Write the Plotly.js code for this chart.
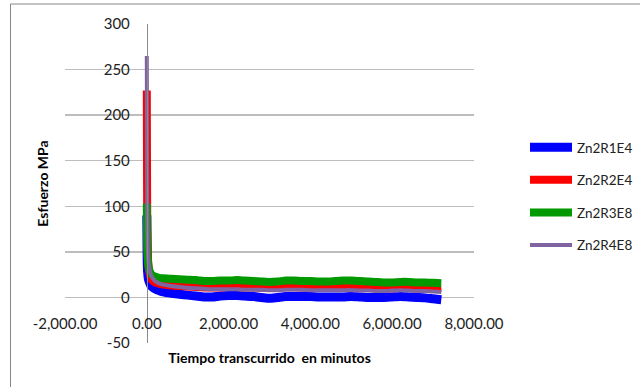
<!DOCTYPE html>
<html>
<head>
<meta charset="utf-8">
<script src="https://cdn.plot.ly/plotly-3.0.1.min.js"></script>
<style>html,body{margin:0;padding:0;background:#fff;}#chart{width:640px;height:387px;}</style>
</head>
<body>
<div id="chart"></div>
<script>
const time = [0, 5, 10, 20, 40, 70, 100, 150, 200, 300, 400, 600, 800, 1000, 1200, 1400, 1600, 1800, 2000, 2200, 2400, 2600, 2800, 3000, 3200, 3400, 3600, 3800, 4000, 4200, 4400, 4600, 4800, 5000, 5200, 5400, 5600, 5800, 6000, 6200, 6400, 6600, 6800, 7000, 7200];
const zn2r1e4 = [90, 60, 40, 28, 20, 16, 13, 11, 9.5, 7.5, 6, 4.5, 3.5, 2.5, 1.5, 0.5, 0.5, 1.5, 2, 2, 1.5, 1, 0, -1, 0, 1, 1, 1, 1, 0.5, 0.5, 0.5, 0.5, 1, 0.5, 0, 0, 0, 0.5, 1, 0.5, 0, -0.5, -1.5, -2.5];
const zn2r2e4 = [227, 150, 90, 55, 35, 26, 21, 18, 16.5, 15, 14, 13, 12.5, 12, 11.5, 11, 11, 11, 11.5, 11.5, 11, 11, 10.5, 10.5, 11, 11.5, 11.5, 11, 11, 10.5, 10.5, 11, 11.5, 11.5, 11, 10.5, 10.5, 10, 10, 10.5, 10.5, 10, 10, 10, 10.5];
const zn2r3e8 = [103, 80, 60, 45, 35, 29, 26, 24, 23, 21.5, 21, 20.5, 20, 19.5, 19, 18, 18, 18.5, 18.5, 19, 18.5, 18, 17.5, 17, 17.5, 18.5, 18.5, 18, 18, 17.5, 17.5, 18, 18.5, 18.5, 18, 17.5, 17, 16.5, 16.5, 17, 17, 16.5, 16.5, 16, 15.5];
const zn2r4e8 = [265, 170, 100, 60, 40, 30, 25, 21, 18, 15.5, 14, 12.5, 11.5, 10.5, 10, 9.5, 9, 9, 9, 9, 8.5, 8.5, 8.5, 8, 8, 8.5, 8.5, 8.5, 8, 8, 8, 8, 8, 8, 7.5, 7.5, 7, 7, 7.5, 8, 7.5, 7, 7, 6.5, 6];
const seriesNames = ["Zn2R1E4", "Zn2R2E4", "Zn2R3E8", "Zn2R4E8"];
const xTickVals = [-2000, 0, 2000, 4000, 6000, 8000];
const xTickText = ["-2,000.00", "0.00", "2,000.00", "4,000.00", "6,000.00", "8,000.00"];
const yTickVals = [-50, 0, 50, 100, 150, 200, 250, 300];
const yTickText = ["-50", "0", "50", "100", "150", "200", "250", "300"];

const colors = ["#0000FF", "#FF0000", "#009A00", "#8064A2"];
const widths = [9, 8, 8, 4];
const ys = [zn2r1e4, zn2r2e4, zn2r3e8, zn2r4e8];
const traces = ys.map((y, i) => ({
  x: time, y: y, type: "scatter", mode: "lines", name: seriesNames[i],
  legendgroup: "g" + i,
  line: {color: colors[i], width: widths[i], shape: "spline", smoothing: 0.6}
}));

const xr = [-2000, 8000], yr = [-50, 300];
const font = "Lato, 'Open Sans', sans-serif";
const L = 65, R = 474, T = 24, B = 343;
const px = v => (v - L) / (R - L);
const py = v => (B - v) / (B - T);
const frame = {color: "#888888", width: 1};

const layout = {
  width: 640, height: 387,
  margin: {l: L, r: 640 - R, t: T, b: 387 - B, pad: 0, autoexpand: false},
  paper_bgcolor: "#fff", plot_bgcolor: "#fff",
  font: {family: font, size: 15, color: "#222"},
  showlegend: true,
  legend: {x: px(525), y: py(132), xanchor: "left", yanchor: "top",
    font: {family: font, size: 13.5, color: "#222"}, tracegroupgap: 12,
    itemwidth: 42,
    traceorder: "grouped", bgcolor: "rgba(0,0,0,0)"},
  xaxis: {range: xr, tickvals: xTickVals, ticktext: xTickText,
    anchor: "free", position: (0 - yr[0]) / (yr[1] - yr[0]),
    showgrid: false, zeroline: false, showline: false, ticks: "",
    ticklabelstandoff: 16, automargin: false,
    tickfont: {family: font, size: 15, color: "#222"},
    title: {text: "Tiempo transcurrido\u00a0 en minutos", standoff: 21,
      font: {family: font, size: 14, color: "#000", weight: "bold"}}},
  yaxis: {range: yr, tickvals: yTickVals, ticktext: yTickText,
    anchor: "free", position: (0 - xr[0]) / (xr[1] - xr[0]),
    showgrid: true, gridcolor: "#BDBDBD", gridwidth: 1.3,
    zeroline: false, showline: true, linecolor: "#8a8a8a", linewidth: 1, ticks: "",
    ticklabelstandoff: 14, automargin: false,
    tickfont: {family: font, size: 15, color: "#222"},
    title: {text: "Esfuerzo MPa", standoff: 50,
      font: {family: font, size: 14, color: "#000", weight: "bold"}}},
  shapes: [
    {type: "line", xref: "paper", yref: "paper", x0: px(10.5), x1: px(10.5), y0: py(4), y1: py(390), line: frame},
    {type: "line", xref: "paper", yref: "paper", x0: px(10.5), x1: px(645), y0: py(4), y1: py(4), line: frame}
  ]
};
Plotly.newPlot("chart", traces, layout, {staticPlot: true, displayModeBar: false});
</script>
</body>
</html>
